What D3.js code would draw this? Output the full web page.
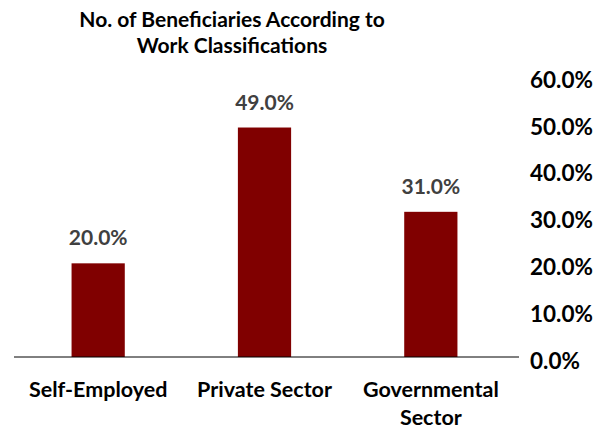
<!DOCTYPE html>
<meta charset="utf-8">
<style>
body { margin: 0; background: #fff; }
text { font-family: Lato, "Open Sans", sans-serif; font-weight: bold; }
</style>
<body>
<div id="chart"></div>
<script src="https://cdn.jsdelivr.net/npm/d3@7"></script>
<script>
// data
var categories = ["Self-Employed", "Private Sector", "Governmental Sector"];
var values = [0.20, 0.49, 0.31];
var yTicks = [0, 0.1, 0.2, 0.3, 0.4, 0.5, 0.6];
var titleLines = ["No. of Beneficiaries According to", "Work Classifications"];

var width = 616, height = 431;
var baseY = 357, topY = 76;

var x = d3.scaleBand()
    .domain(categories)
    .range([15, 514])
    .paddingInner(0.68)
    .paddingOuter(0.34);
var y = d3.scaleLinear().domain([0, 0.6]).range([baseY, topY]);

var svg = d3.select("#chart").append("svg")
    .attr("width", width)
    .attr("height", height);

// title
svg.append("text")
    .attr("x", 232)
    .attr("y", 27)
    .style("text-anchor", "middle")
    .style("font-size", "21px")
    .style("fill", "#000")
  .selectAll("tspan")
    .data(titleLines)
  .enter().append("tspan")
    .attr("x", 232)
    .attr("dy", function(d, i) { return i ? 26 : 0; })
    .text(function(d) { return d; });

// bars
svg.selectAll(".bar")
    .data(values)
  .enter().append("rect")
    .attr("class", "bar")
    .attr("x", function(d, i) { return x(categories[i]); })
    .attr("width", x.bandwidth())
    .attr("y", function(d) { return y(d); })
    .attr("height", function(d) { return baseY - y(d); })
    .style("fill", "#800000");

// value labels
svg.selectAll(".val")
    .data(values)
  .enter().append("text")
    .attr("class", "val")
    .attr("x", function(d, i) { return x(categories[i]) + x.bandwidth() / 2; })
    .attr("y", function(d) { return y(d) - 18; })
    .style("text-anchor", "middle")
    .style("font-size", "21px")
    .style("fill", "#404040")
    .text(function(d) { return d3.format(".1%")(d); });

// baseline
svg.append("line")
    .attr("x1", 14).attr("x2", 519)
    .attr("y1", baseY).attr("y2", baseY)
    .style("stroke", "#000")
    .style("stroke-width", 1);

// right axis labels
var yAxis = svg.append("g")
    .attr("transform", "translate(530,0)")
    .call(d3.axisRight(y).tickValues(yTicks).tickFormat(d3.format(".1%")).tickSize(0).tickPadding(0));
yAxis.select(".domain").remove();
yAxis.selectAll("text")
    .attr("dy", "0.5em")
    .style("font-size", "22.5px")
    .style("font-family", "Lato, sans-serif")
    .style("font-weight", "bold")
    .style("fill", "#000");

// category labels
var cat = svg.selectAll(".cat")
    .data(categories)
  .enter().append("text")
    .attr("class", "cat")
    .attr("y", 397)
    .style("text-anchor", "middle")
    .style("font-size", "21.5px")
    .style("fill", "#000");
cat.each(function(d) {
  var words = d == "Governmental Sector" ? ["Governmental", "Sector"] : [d];
  var cx = x(d) + x.bandwidth() / 2;
  d3.select(this).selectAll("tspan")
      .data(words)
    .enter().append("tspan")
      .attr("x", cx)
      .attr("dy", function(w, i) { return i ? 28 : 0; })
      .text(function(w) { return w; });
});
</script>
</body>
